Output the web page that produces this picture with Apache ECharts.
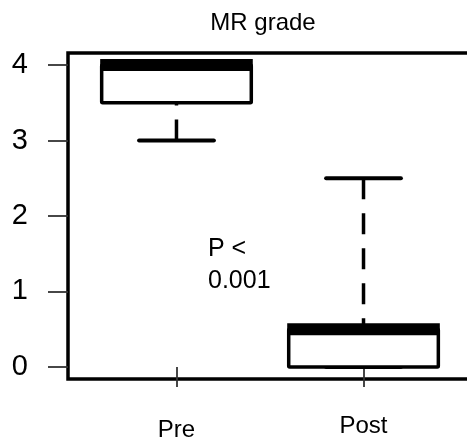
<!DOCTYPE html>
<html>
<head>
<meta charset="utf-8">
<script src="https://cdn.jsdelivr.net/npm/echarts@6/dist/echarts.min.js"></script>
<style>
  html, body { margin: 0; padding: 0; background: #fff; }
  #chart { width: 467px; height: 439px; }
</style>
</head>
<body>
<div id="chart"></div>
<script>
// Box plot stats per group
const groups = ["Pre", "Post"];
const mins = [3, 0];
const q1s = [3.5, 0];
const medians = [4, 0.5];
const q3s = [4, 0.5];
const maxs = [4, 2.5];
const yTicks = [0, 1, 2, 3, 4];
const groupPos = [1, 2];

const chart = echarts.init(document.getElementById("chart"));

const boxData = groups.map((g, i) => [groupPos[i], mins[i], q1s[i], medians[i], q3s[i], maxs[i]]);

function renderBox(params, api) {
  const x = api.value(0);
  const lo = api.value(1), q1 = api.value(2), med = api.value(3), q3 = api.value(4), hi = api.value(5);
  const cx = api.coord([x, 0])[0];
  const halfBox = api.size([0.4, 0])[0];
  const halfCap = api.size([0.2, 0])[0];
  const y = (v) => api.coord([x, v])[1];
  const black = "#000";
  const dash = { stroke: black, lineWidth: 3.5, lineDash: [21, 14], lineCap: "butt" };
  const children = [];

  // whiskers, drawn from the whisker end towards the box
  children.push({ type: "line", shape: { x1: cx, y1: y(hi), x2: cx, y2: y(q3) }, style: dash });
  children.push({ type: "line", shape: { x1: cx, y1: y(lo), x2: cx, y2: y(q1) }, style: dash });
  // staples
  [hi, lo].forEach((v) => {
    children.push({
      type: "line",
      shape: { x1: cx - halfCap, y1: y(v), x2: cx + halfCap, y2: y(v) },
      style: { stroke: black, lineWidth: 4, lineCap: "round" }
    });
  });
  // box
  children.push({
    type: "rect",
    shape: { x: cx - halfBox, y: y(q3), width: halfBox * 2, height: y(q1) - y(q3), r: 1 },
    style: { fill: "#fff", stroke: black, lineWidth: 3.5, lineJoin: "round" }
  });
  // median
  children.push({
    type: "line",
    shape: { x1: cx - halfBox - 1.5, y1: y(med), x2: cx + halfBox + 1.5, y2: y(med) },
    style: { stroke: black, lineWidth: 12, lineCap: "butt" }
  });
  return { type: "group", children };
}

const option = {
  backgroundColor: "#fff",
  animation: false,
  title: {
    text: "MR grade",
    left: 263,
    top: 11,
    padding: 0,
    textAlign: "center",
    textStyle: { fontFamily: "Liberation Sans", fontSize: 24, fontWeight: "normal", color: "#000" }
  },
  grid: {
    left: 68,
    top: 53,
    width: 404,
    height: 326,
    outerBoundsMode: "none",
    containLabel: false,
    show: true,
    borderColor: "#000",
    borderWidth: 3.5,
    backgroundColor: "transparent"
  },
  xAxis: {
    type: "value",
    min: 0.42,
    max: 2.58,
    splitLine: { show: false },
    axisLine: { show: false },
    axisTick: {
      show: true,
      customValues: groupPos,
      length: 20,
      lineStyle: { color: "#333", width: 1.8 }
    },
    axisLabel: {
      customValues: groupPos,
      margin: 35,
      formatter: (v) => (v === 1 ? "{a|" + groups[0] + "}" : "{b|" + groups[1] + "}"),
      rich: {
        a: { fontFamily: "Liberation Sans", fontSize: 24, color: "#000", padding: [4, 0, 0, 0] },
        b: { fontFamily: "Liberation Sans", fontSize: 24, color: "#000" }
      }
    }
  },
  yAxis: {
    type: "value",
    min: -0.16,
    max: 4.16,
    splitLine: { show: false },
    axisLine: { show: false },
    axisTick: {
      show: true,
      customValues: yTicks,
      length: 20,
      lineStyle: { color: "#333", width: 1.8 }
    },
    axisLabel: {
      customValues: yTicks,
      margin: 40,
      fontFamily: "Liberation Sans",
      fontSize: 29,
      color: "#000"
    }
  },
  graphic: [
    {
      type: "text",
      left: 208,
      top: 233,
      style: {
        text: "P <\n0.001",
        fontFamily: "Liberation Sans",
        fontSize: 25,
        lineHeight: 32,
        fill: "#000"
      }
    }
  ],
  series: [
    {
      type: "custom",
      renderItem: renderBox,
      data: boxData,
      encode: { x: 0, y: [1, 2, 3, 4, 5] },
      clip: false
    }
  ]
};

chart.setOption(option);
</script>
</body>
</html>
